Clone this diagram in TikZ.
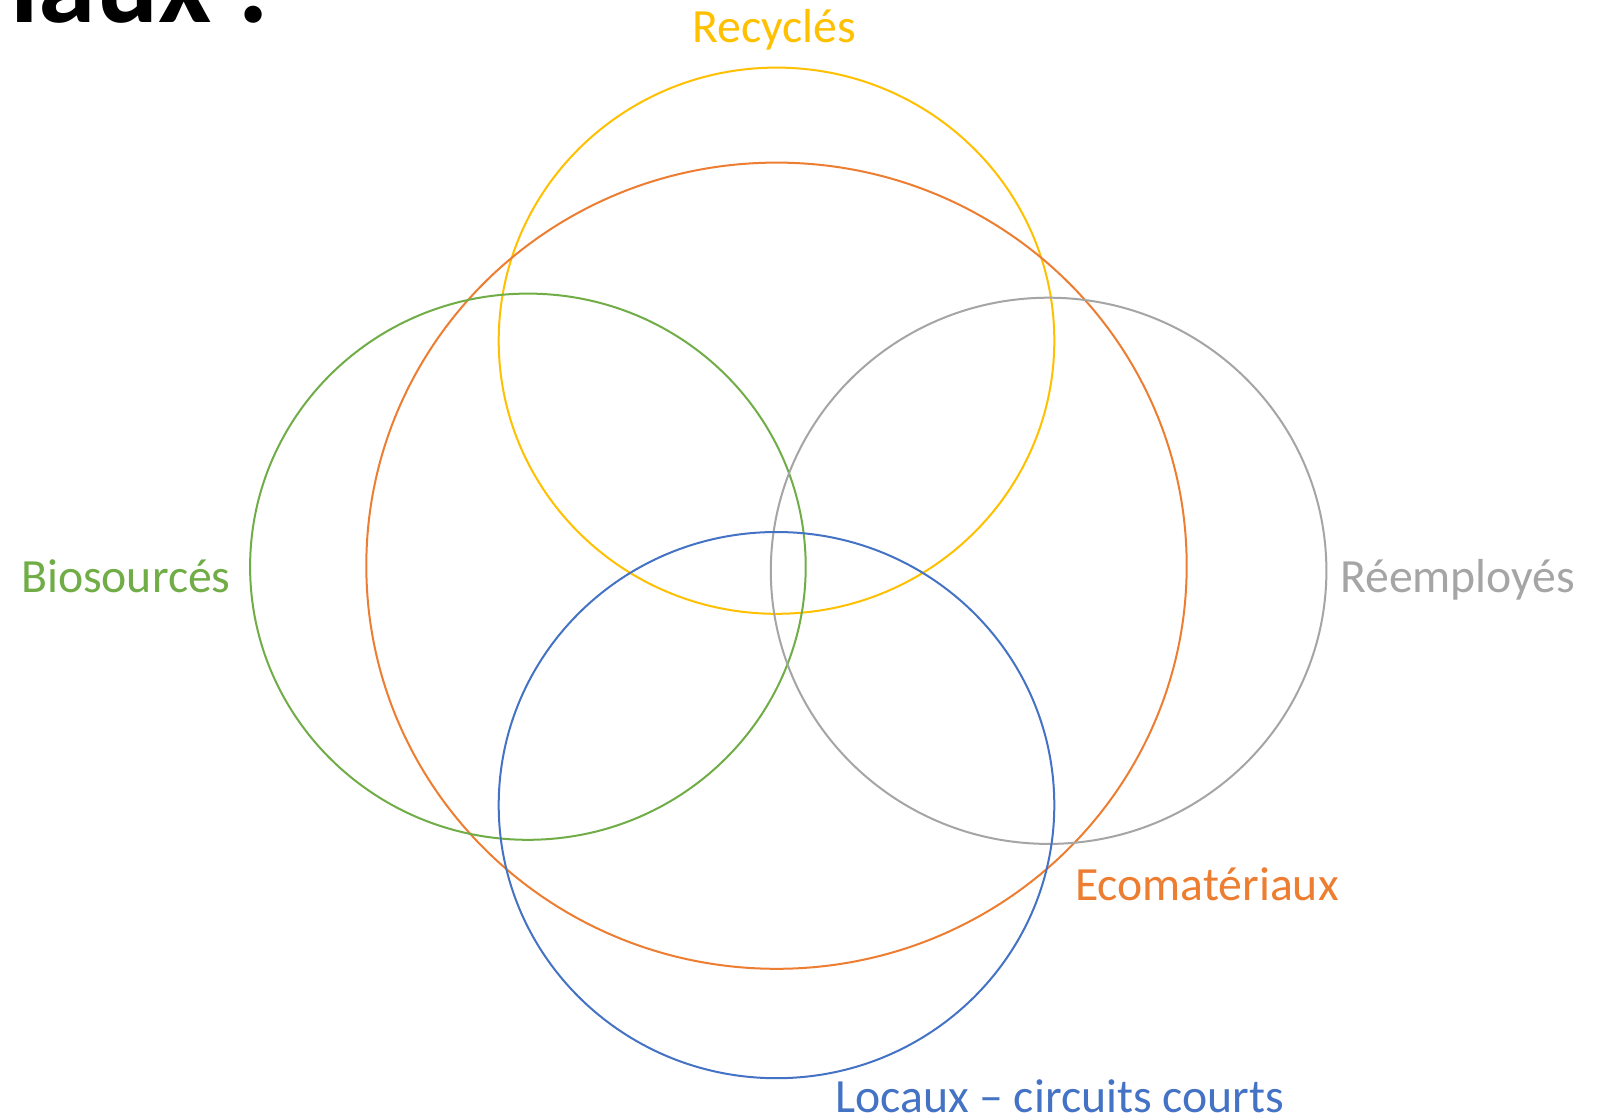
\documentclass[tikz,border=0pt]{standalone}
\usepackage{fontspec}
\setmainfont{Carlito}
\usetikzlibrary{shapes.geometric}
\definecolor{cyel}{HTML}{FFC000}
\definecolor{corg}{HTML}{ED7D31}
\definecolor{cgrn}{HTML}{70AD47}
\definecolor{cgry}{HTML}{A5A5A5}
\definecolor{cblu}{HTML}{4472C4}
\tikzset{
  ring/.style={ellipse, draw, line width=2pt, inner sep=0pt, minimum width=555.6pt, minimum height=546.2pt},
  bigring/.style={ellipse, draw, line width=2pt, inner sep=0pt, minimum width=820.4pt, minimum height=806.2pt},
  lab/.style={inner sep=0pt, font=\fontsize{47.7}{52}\selectfont},
}
\begin{document}
\begin{tikzpicture}[x=1pt,y=-1pt]
\useasboundingbox (0,0) rectangle (1604,1117);
\fill[white] (0,0) rectangle (1604,1117);
\node[ring, draw=cyel] (rec) at (776.5,340.7) {};
\node[bigring, draw=corg] (eco) at (776.5,565.7) {};
\node[ring, draw=cgrn] (bio) at (527.9,566.7) {};
\node[ring, draw=cgry] (ree) at (1048.6,570.8) {};
\node[ring, draw=cblu] (loc) at (776.5,805.1) {};
\node[lab, text=cyel, anchor=base] (trec) at (774,42) {Recyclés};
\node[lab, text=cgrn, anchor=base west] (tbio) at (21,592) {Biosourcés};
\node[lab, text=cgry, anchor=base west] (tree) at (1340,592) {Réemployés};
\node[lab, text=corg, anchor=base west] (teco) at (1075,900) {Ecomatériaux};
\node[lab, text=cblu, anchor=base west] (tloc) at (835,1112) {Locaux – circuits courts};
\node[inner sep=0pt, anchor=base west, font=\fontsize{116}{120}\selectfont\bfseries] (title) at (10,22) {iaux :};
\end{tikzpicture}
\end{document}
